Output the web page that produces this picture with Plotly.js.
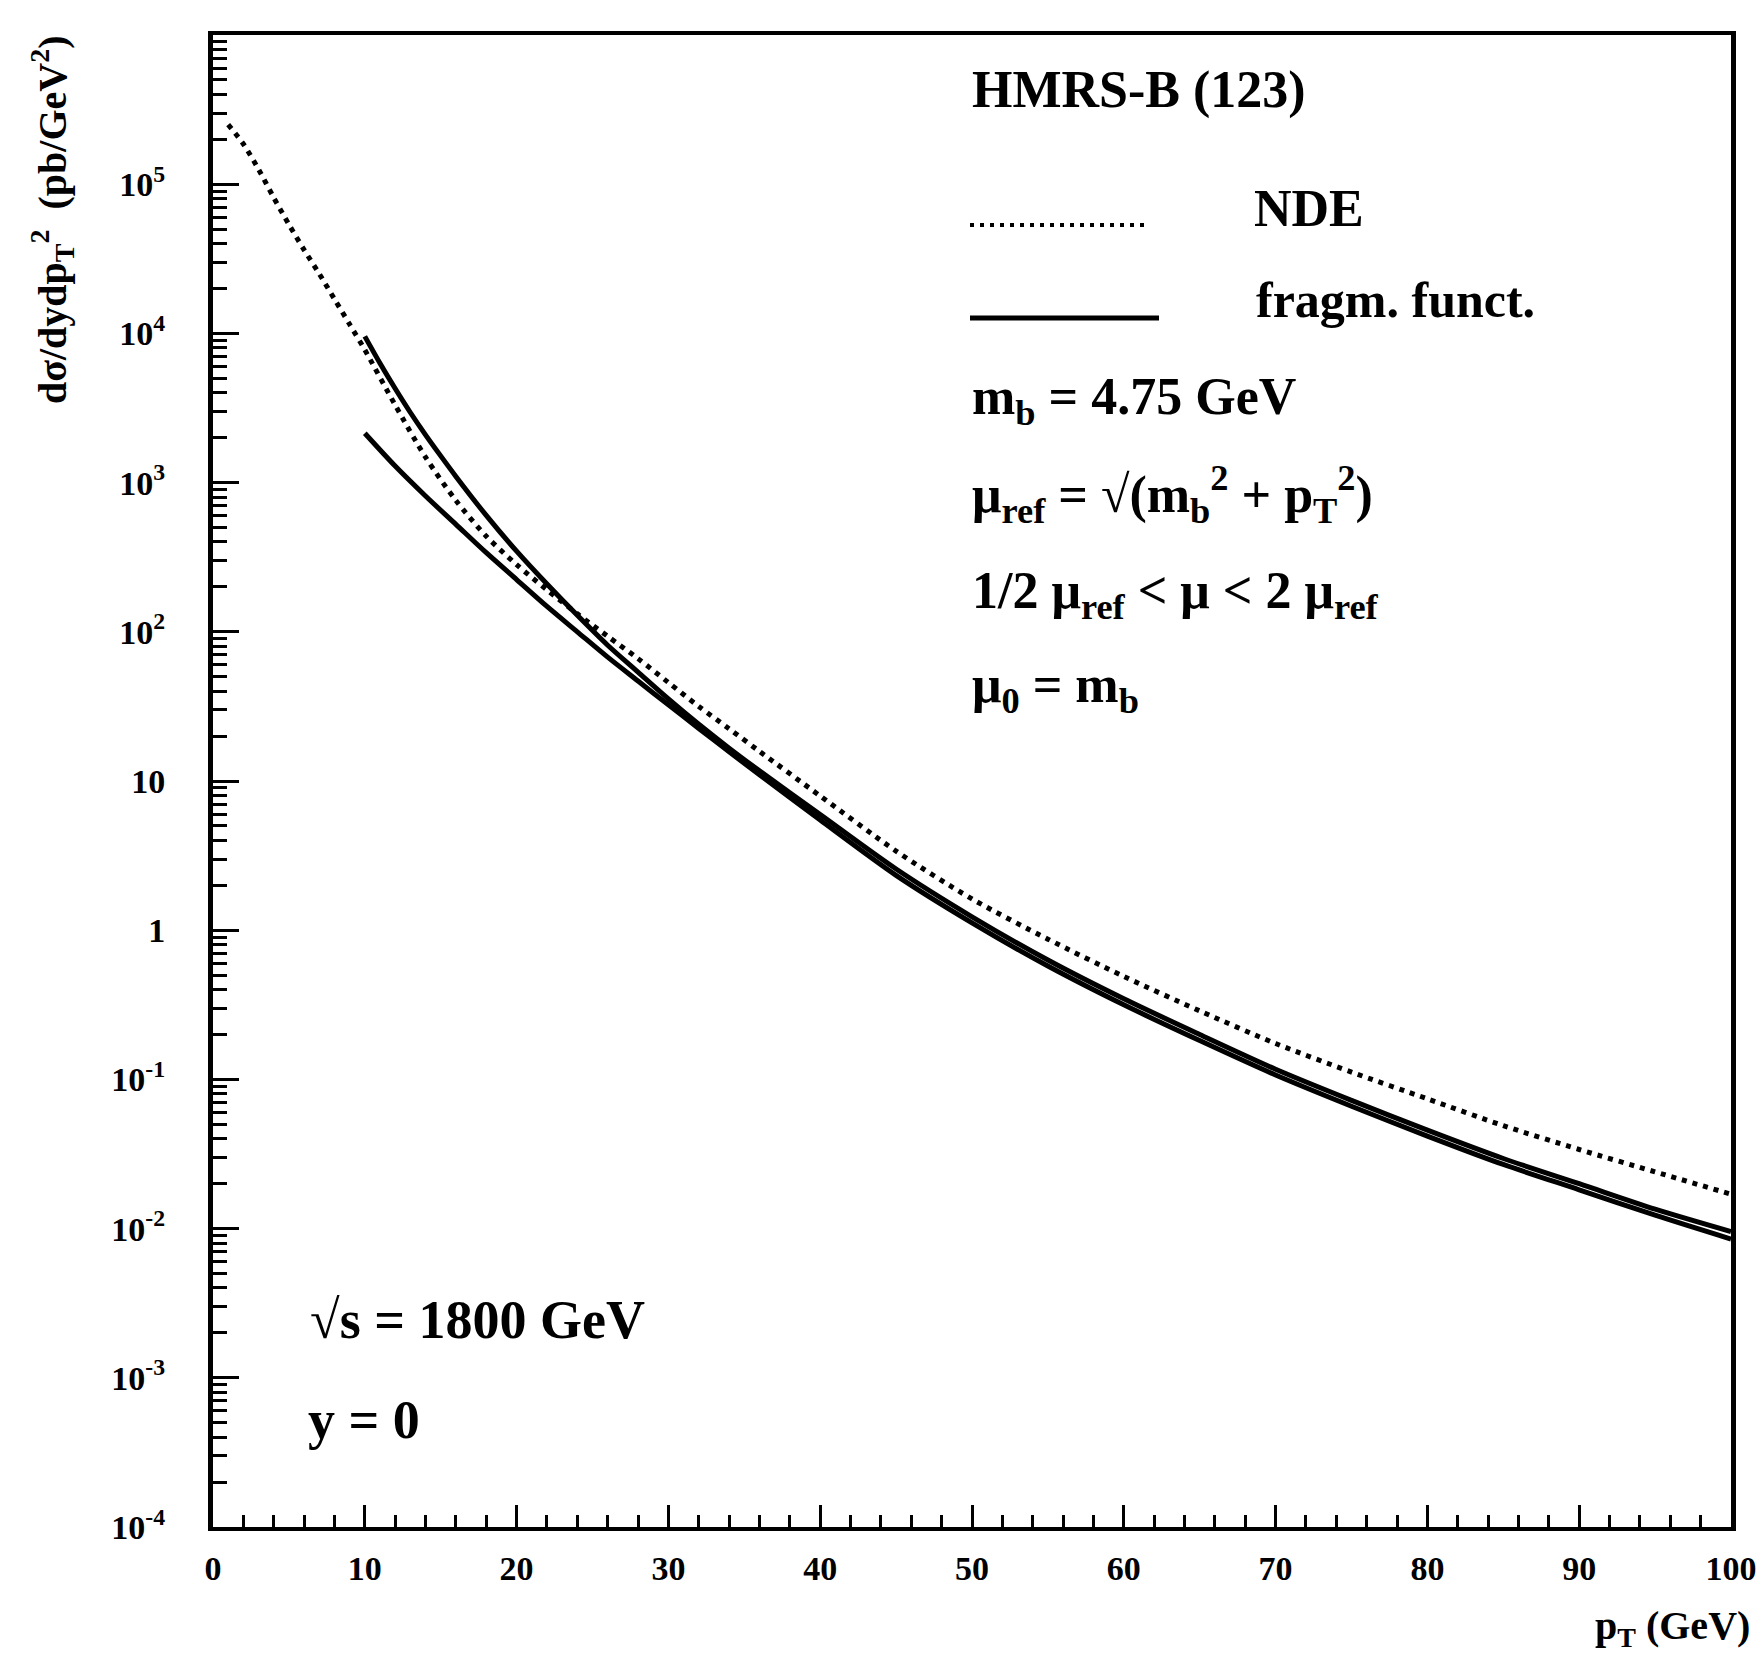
<!DOCTYPE html>
<html>
<head>
<meta charset="utf-8">
<script src="https://cdn.plot.ly/plotly-3.0.1.min.js"></script>
<style>html,body{margin:0;padding:0;background:#fff;}#chart{width:1764px;height:1670px;}</style>
</head>
<body>
<div id="chart"></div>
<script>
// ---- data ----
const ptNDE = [1, 2, 3, 4, 5, 6, 7, 8, 9, 10, 12, 14, 16, 18, 20, 22, 24, 26, 28, 30, 32, 34, 36, 40, 45, 50, 55, 60, 65, 70, 75, 80, 85, 90, 95, 100];
const sigNDE = [251000, 186000, 126000, 81300, 53700, 36300, 25100, 17000, 11500, 7760, 3310, 1480, 759, 437, 282, 191, 132, 93.3, 66.1, 45.7, 31.6, 22.4, 15.8, 7.94, 3.39, 1.62, 0.871, 0.490, 0.288, 0.174, 0.112, 0.0741, 0.0490, 0.0339, 0.0240, 0.0170];

const ptFragHigh = [10, 11, 12, 13, 14, 15, 16, 18, 20, 22, 24, 26, 28, 30, 32, 34, 36, 40, 45, 50, 55, 60, 65, 70, 75, 80, 85, 90, 95, 100];
const sigFragHigh = [9550, 6310, 4270, 2950, 2090, 1510, 1100, 603, 347, 209, 129, 81.3, 53.7, 35.5, 24.0, 16.6, 11.7, 5.96, 2.57, 1.23, 0.631, 0.347, 0.200, 0.117, 0.0724, 0.0457, 0.0295, 0.0200, 0.0135, 0.00955];

const ptFragLow = [10, 12, 14, 16, 18, 20, 22, 24, 26, 28, 30, 32, 34, 36, 40, 45, 50, 55, 60, 65, 70, 75, 80, 85, 90, 95, 100];
const sigFragLow = [2140, 1290, 813, 525, 339, 224, 148, 100, 67.6, 46.8, 32.4, 22.5, 15.7, 11.0, 5.47, 2.33, 1.12, 0.575, 0.316, 0.182, 0.107, 0.0661, 0.0417, 0.0269, 0.0182, 0.0123, 0.00851];

const xTickVals = [0, 10, 20, 30, 40, 50, 60, 70, 80, 90, 100];
const xTickText = ['0', '10', '20', '30', '40', '50', '60', '70', '80', '90', '100'];
const yTickVals = [1e-4, 1e-3, 1e-2, 1e-1, 1, 10, 1e2, 1e3, 1e4, 1e5];
const yTickText = ['10<sup>-4</sup>', '10<sup>-3</sup>', '10<sup>-2</sup>', '10<sup>-1</sup>', '1', '10', '10<sup>2</sup>', '10<sup>3</sup>', '10<sup>4</sup>', '10<sup>5</sup>'];

const legendLabels = ['NDE', 'fragm. funct.'];
const infoLines = [
  'HMRS-B (123)',
  'm<sub>b</sub> = 4.75 GeV',
  'μ<sub>ref</sub> = √(m<sub>b</sub><sup>2</sup> + p<sub>T</sub><sup>2</sup>)',
  '1/2 μ<sub>ref</sub> &lt; μ &lt; 2 μ<sub>ref</sub>',
  'μ<sub>0</sub> = m<sub>b</sub>'
];
const condLines = ['√s = 1800 GeV', 'y = 0'];

// ---- layout geometry (pixels) ----
const W = 1764, H = 1670;
const L = 213, R = 1731, T = 35, B = 1527;
const px = X => (X - L) / (R - L);
const py = Y => (B - Y) / (B - T);

const FONT = 'Liberation Serif, Times New Roman, serif';
const ink = '#000';

const traces = [
  {x: ptNDE, y: sigNDE, type: 'scatter', mode: 'lines', name: legendLabels[0],
   line: {color: ink, width: 5, dash: '5px,6px', shape: 'spline', smoothing: 0.8}},
  {x: ptFragHigh, y: sigFragHigh, type: 'scatter', mode: 'lines', name: legendLabels[1],
   line: {color: ink, width: 5, shape: 'spline', smoothing: 0.8}},
  {x: ptFragLow, y: sigFragLow, type: 'scatter', mode: 'lines', name: legendLabels[1],
   line: {color: ink, width: 5, shape: 'spline', smoothing: 0.8}}
];

function txt(text, X, Y, size, anchor) {
  return {text: text, xref: 'paper', yref: 'paper', x: px(X), y: py(Y),
          xanchor: anchor || 'left', yanchor: 'middle', showarrow: false,
          font: {family: FONT, size: size, color: ink, weight: 'bold'}};
}

const TS = 52;
const annotations = [
  txt(infoLines[0], 970, 90, TS),
  txt(legendLabels[0], 1252, 208, TS),
  txt(legendLabels[1], 1254, 300, 50),
  txt(infoLines[1], 970, 400, TS),
  txt(infoLines[2], 970, 494, TS),
  txt(infoLines[3], 970, 594, TS),
  txt(infoLines[4], 970, 688, TS),
  txt(condLines[0], 308, 1320, 54),
  txt(condLines[1], 306, 1420, 54),
  txt('p<sub>T</sub> (GeV)', 1752, 1628, 40, 'right'),
  {text: 'dσ/dydp<sub>T</sub><sup>2</sup>  (pb/GeV<sup>2</sup>)', xref: 'paper', yref: 'paper',
   x: px(52), y: py(220), xanchor: 'center', yanchor: 'middle', textangle: -90, showarrow: false,
   font: {family: FONT, size: 40, color: ink, weight: 'bold'}}
];

const shapes = [
  {type: 'line', xref: 'paper', yref: 'paper', x0: px(970), x1: px(1148), y0: py(225), y1: py(225),
   line: {color: ink, width: 4, dash: '4px,6px'}},
  {type: 'line', xref: 'paper', yref: 'paper', x0: px(970), x1: px(1159), y0: py(318), y1: py(318),
   line: {color: ink, width: 5}}
];

const layout = {
  width: W, height: H,
  margin: {l: L, r: W - R, t: T, b: H - B, pad: 0},
  paper_bgcolor: '#fff', plot_bgcolor: '#fff',
  showlegend: false,
  font: {family: FONT, color: ink},
  xaxis: {
    range: [0, 100], showgrid: false, zeroline: false,
    showline: true, linecolor: ink, linewidth: 4, mirror: true,
    ticks: 'inside', ticklen: 22, tickwidth: 3, tickcolor: ink,
    tickmode: 'array', tickvals: xTickVals, ticktext: xTickText,
    tickfont: {family: FONT, size: 34, color: ink, weight: 'bold'},
    ticklabelstandoff: 8,
    minor: {dtick: 2, ticks: 'inside', ticklen: 12, tickwidth: 3, tickcolor: ink, showgrid: false}
  },
  yaxis: {
    type: 'log', range: [-4, 6], showgrid: false, zeroline: false,
    showline: true, linecolor: ink, linewidth: 5, mirror: true,
    ticks: 'inside', ticklen: 26, tickwidth: 3, tickcolor: ink,
    tickmode: 'array', tickvals: yTickVals, ticktext: yTickText,
    tickfont: {family: FONT, size: 34, color: ink, weight: 'bold'},
    ticklabelstandoff: 36,
    minor: {dtick: 'D1', ticks: 'inside', ticklen: 14, tickwidth: 3, tickcolor: ink, showgrid: false}
  },
  annotations: annotations,
  shapes: shapes
};

Plotly.newPlot('chart', traces, layout, {displayModeBar: false, staticPlot: true});
</script>
</body>
</html>
